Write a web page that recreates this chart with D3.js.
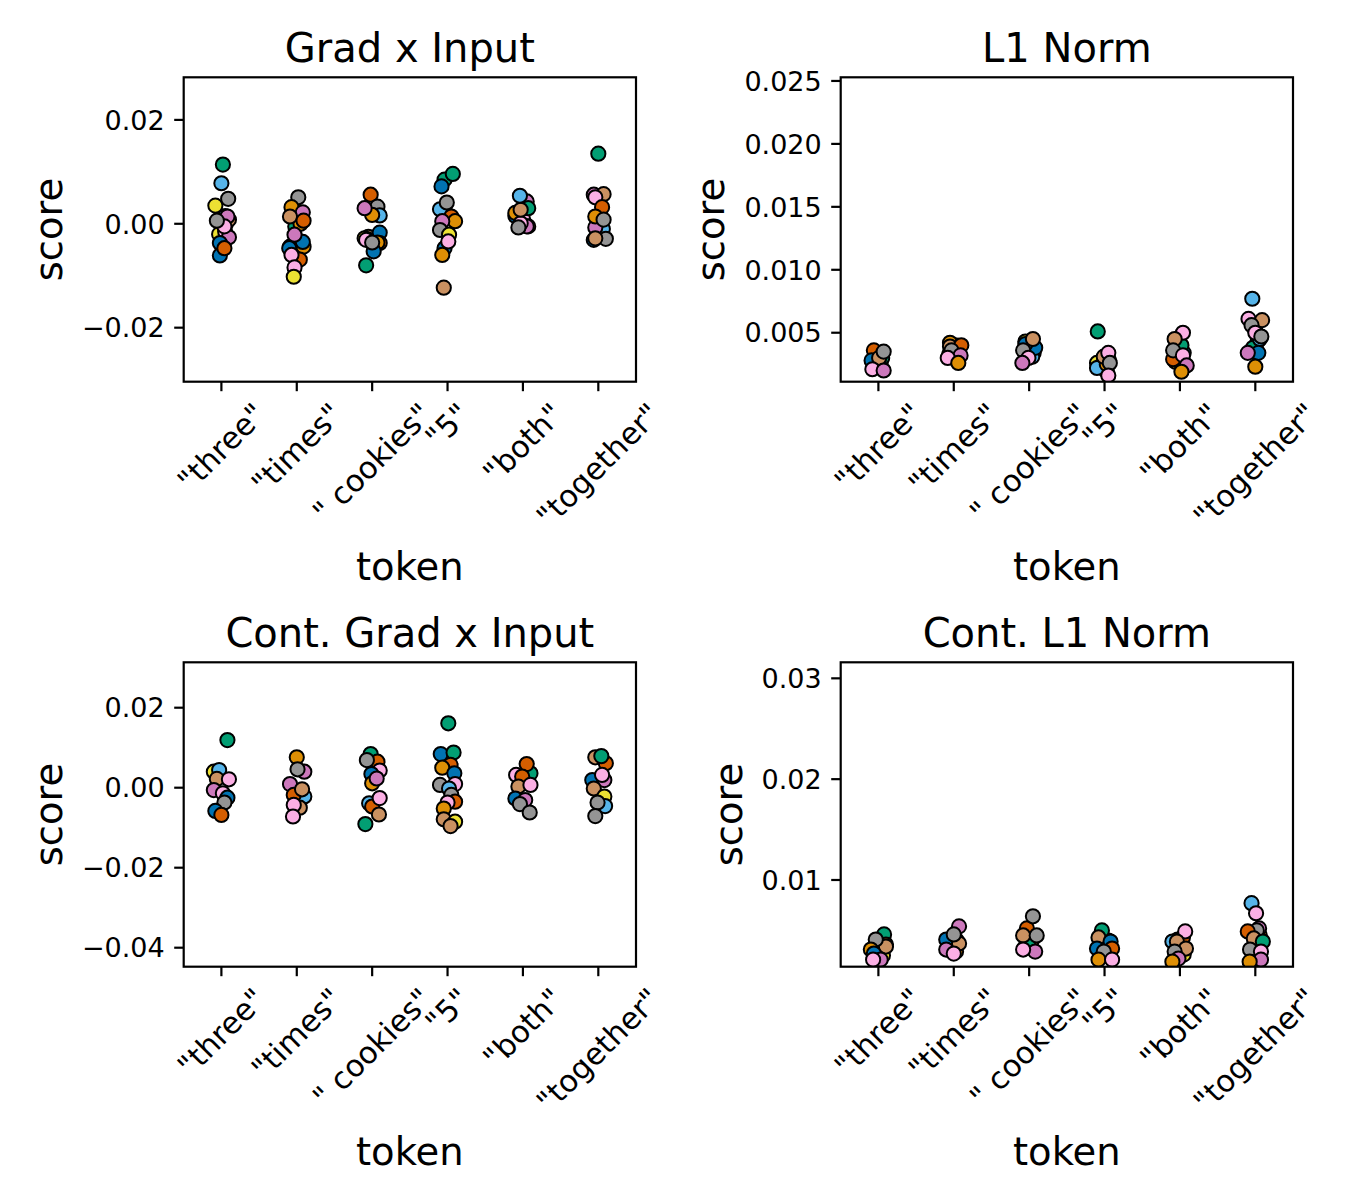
<!DOCTYPE html>
<html>
<head>
<meta charset="utf-8">
<script src="https://cdn.jsdelivr.net/npm/d3@7"></script>
<style>
  body { margin: 0; background: #fff; }
  text { font-family: "DejaVu Sans", sans-serif; fill: #000; }
</style>
</head>
<body>
<svg id="fig" width="1350" height="1200"></svg>
<script>
// categories on the x axis
var tokens = ['"three"', '"times"', '" cookies"', '"5"', '"both"', '"together"'];

// seaborn "colorblind" palette, indexed by hue level
var palette = ['#0173b2', '#de8f05', '#029e73', '#d55e00', '#cc78bc',
               '#ca9161', '#fbafe4', '#949494', '#ece133', '#56b4e9'];

// each point: [score, hue index, jitter in category units]
var gradInputPts = [
  [[0.0015,1,0.05],[-0.0010,2,0.03],[0.0000,3,0.06],[-0.0020,8,-0.03],[0.0011,9,0.02],[-0.0015,6,0.05],
   [0.0008,5,0.10],[-0.0026,4,0.10],[0.0014,4,0.08],[-0.0005,6,0.04],[0.0006,7,-0.06],[0.0035,8,-0.08],
   [0.0048,7,0.09],[0.0078,9,0.00],[0.0114,2,0.02],[-0.0037,0,-0.02],[-0.0061,0,-0.02],[-0.0047,3,0.04]],
  [[-0.0005,2,-0.02],[0.0000,1,0.05],[-0.0030,5,0.00],[0.0051,7,0.02],[0.0032,1,-0.07],[0.0022,4,0.08],
   [0.0014,5,-0.09],[0.0006,3,0.09],[-0.0044,9,-0.09],[-0.0047,0,-0.10],[-0.0044,1,0.09],[-0.0035,0,0.08],
   [-0.0021,4,-0.03],[-0.0069,3,0.04],[-0.0060,6,-0.07],[-0.0084,6,-0.03],[-0.0102,8,-0.04]],
  [[-0.0030,2,0.05],[-0.0025,5,-0.05],[-0.0030,4,-0.06],[-0.0028,8,-0.10],[0.0056,3,-0.02],[0.0033,7,0.07],
   [0.0016,9,0.10],[0.0017,1,0.00],[0.0030,4,-0.10],[-0.0017,0,0.10],[-0.0037,3,0.10],[-0.0036,1,0.07],
   [-0.0031,6,-0.08],[-0.0053,0,0.02],[-0.0036,7,0.00],[-0.0080,2,-0.08]],
  [[0.0010,6,0.06],[-0.0047,0,-0.04],[0.0030,5,-0.04],[0.0028,9,-0.10],[0.0085,2,-0.04],[0.0096,2,0.07],
   [0.0072,0,-0.08],[0.0041,7,-0.01],[0.0014,3,0.05],[0.0005,1,0.10],[0.0005,4,-0.07],[-0.0012,7,-0.10],
   [-0.0021,8,0.02],[-0.0034,6,0.01],[-0.0060,1,-0.07],[-0.0123,5,-0.05]],
  [[0.0015,0,-0.10],[0.0021,3,-0.08],[0.0035,1,0.03],[0.0010,6,0.00],[0.0043,4,0.05],[0.0030,2,0.07],
   [0.0021,1,-0.10],[-0.0005,8,0.07],[-0.0005,4,0.05],[0.0001,6,-0.03],[0.0027,5,-0.03],[0.0054,9,-0.04],
   [-0.0007,7,-0.06]],
  [[0.0000,0,0.03],[-0.0010,9,0.06],[-0.0031,0,-0.06],[-0.0007,4,-0.04],[0.0056,4,-0.06],[0.0057,5,0.07],
   [0.0051,6,-0.04],[0.0032,3,0.05],[0.0014,1,-0.04],[0.0008,7,0.07],[-0.0029,7,0.10],[-0.0028,5,-0.04],
   [0.0135,2,0.00]]
];

var l1NormPts = [
  [[0.0031,3,0.00],[0.0026,9,0.03],[0.0033,5,-0.04],[0.0024,0,0.02],
   [0.0030,2,0.05],[0.0032,1,0.02],[0.0028,9,-0.02],[0.0027,8,0.00],[0.0036,3,-0.06],[0.0028,0,-0.09],
   [0.0030,5,0.01],[0.0035,7,0.07],[0.0021,6,-0.08],[0.0020,4,0.07]],
  [[0.0034,2,0.00],[0.0038,0,0.04],[0.0033,9,-0.06],[0.0040,8,0.02],
   [0.0036,2,0.03],[0.0042,1,-0.05],[0.0039,5,-0.05],[0.0040,3,0.10],[0.0036,7,-0.03],[0.0032,4,0.09],
   [0.0030,6,-0.08],[0.0026,1,0.06]],
  [[0.0040,2,0.03],[0.0034,3,0.06],[0.0043,8,-0.05],[0.0031,9,0.04],[0.0038,1,0.00],
   [0.0038,0,0.08],[0.0041,0,-0.05],[0.0045,5,0.05],[0.0036,7,-0.08],[0.0030,6,-0.01],[0.0026,4,-0.09]],
  [[0.0028,3,0.06],[0.0022,5,-0.02],[0.0019,0,0.03],[0.0030,9,0.04],
   [0.0025,4,0.03],[0.0026,8,-0.10],[0.0023,0,-0.06],[0.0022,9,-0.10],[0.0025,1,0.03],[0.0031,5,-0.01],
   [0.0034,6,0.05],[0.0026,7,0.07],[0.0016,6,0.05],[0.0051,2,-0.09]],
  [[0.0034,0,0.05],[0.0027,8,-0.06],[0.0039,9,0.00],[0.0022,5,0.03],
   [0.0040,2,0.02],[0.0050,6,0.04],[0.0045,5,-0.07],[0.0029,3,-0.09],[0.0036,7,-0.09],[0.0032,6,0.04],
   [0.0024,4,0.09],[0.0019,1,0.02]],
  [[0.0043,3,0.03],[0.0038,2,-0.03],[0.0045,9,0.06],[0.0052,8,0.00],
   [0.0077,9,-0.04],[0.0061,6,-0.09],[0.0060,5,0.09],[0.0056,7,-0.05],[0.0050,6,0.00],[0.0047,7,0.08],
   [0.0034,0,0.04],[0.0034,4,-0.10],[0.0023,1,0.00]]
];

var contGradInputPts = [
  [[0.0040,8,-0.10],[0.0044,9,-0.03],[0.0022,5,-0.06],[0.0021,6,0.10],[-0.0006,4,-0.10],[-0.0014,6,0.02],
   [-0.0025,0,0.08],[-0.0037,7,0.04],[-0.0058,0,-0.08],[-0.0068,3,0.00],[0.0119,2,0.08]],
  [[0.0076,1,0.00],[0.0040,4,0.10],[0.0046,7,0.01],[0.0009,4,-0.09],[-0.0022,9,0.10],[-0.0018,3,-0.04],
   [-0.0004,5,0.07],[-0.0050,5,0.04],[-0.0043,6,-0.04],[-0.0072,6,-0.05]],
  [[0.0084,2,-0.02],[0.0065,3,0.07],[0.0069,7,-0.07],[0.0043,6,0.10],[0.0034,0,-0.01],[0.0011,1,0.00],
   [0.0023,4,0.06],[-0.0039,9,-0.04],[-0.0047,3,0.00],[-0.0026,6,0.10],[-0.0067,5,0.09],[-0.0091,2,-0.09]],
  [[0.0161,2,0.01],[0.0084,0,-0.09],[0.0088,2,0.08],[0.0057,3,0.04],[0.0050,1,-0.07],[0.0036,0,0.09],
   [0.0007,7,-0.10],[0.0009,6,0.10],[-0.0002,9,0.02],[-0.0018,7,0.05],[-0.0035,3,0.10],[-0.0037,6,0.00],
   [-0.0052,1,-0.05],[-0.0079,5,-0.05],[-0.0085,8,0.10],[-0.0096,5,0.04]],
  [[0.0036,2,0.10],[0.0059,3,0.05],[0.0032,6,-0.09],[0.0028,3,-0.01],[0.0003,5,-0.06],[0.0007,6,0.10],
   [-0.0027,0,-0.10],[-0.0031,4,0.03],[-0.0041,7,-0.04],[-0.0062,7,0.09]],
  [[0.0076,5,-0.04],[0.0061,3,0.10],[0.0079,2,0.04],[0.0019,0,-0.08],[0.0019,4,0.08],[0.0032,6,0.05],
   [-0.0002,5,-0.06],[-0.0022,8,0.08],[-0.0046,9,0.09],[-0.0037,7,-0.01],[-0.0071,7,-0.04]]
];

var contL1NormPts = [
  [[0.0030,9,0.02],[0.0025,8,0.06],[0.0033,2,0.00],[0.0028,5,-0.03],
   [0.0046,2,0.075],[0.0036,3,0.10],[0.0034,5,0.10],[0.0041,7,-0.035],[0.0031,1,-0.10],[0.0027,0,-0.06],
   [0.0021,4,0.03],[0.0021,6,-0.07]],
  [[0.0035,2,0.03],[0.0033,3,-0.05],[0.0040,9,0.04],[0.0029,1,0.03],
   [0.0041,0,-0.10],[0.0054,4,0.07],[0.0037,5,0.07],[0.0046,7,0.00],[0.0031,4,-0.10],[0.0027,6,0.00]],
  [[0.0036,0,0.02],[0.0041,1,0.04],[0.0034,9,-0.05],
   [0.0039,2,-0.01],[0.0052,3,-0.03],[0.0045,5,-0.08],[0.0045,7,0.10],[0.0064,7,0.05],[0.0029,4,0.08],
   [0.0031,6,-0.08]],
  [[0.0027,4,0.05],[0.0036,9,0.02],[0.0025,8,-0.05],[0.0040,6,0.05],
   [0.0050,2,-0.035],[0.0043,5,-0.08],[0.0039,0,0.08],[0.0032,0,-0.10],[0.0032,3,0.10],[0.0029,7,-0.01],
   [0.0021,1,-0.08],[0.0021,6,0.10]],
  [[0.0030,0,0.03],[0.0035,2,0.00],[0.0026,8,0.05],[0.0041,1,-0.03],
   [0.0039,9,-0.10],[0.0043,3,0.04],[0.0049,6,0.07],[0.0039,5,-0.04],[0.0032,5,0.08],[0.0029,7,-0.07],
   [0.0022,4,-0.02],[0.0019,1,-0.10]],
  [[0.0035,0,0.02],[0.0045,1,0.06],[0.0026,8,-0.02],[0.0052,4,0.05],
   [0.0077,9,-0.05],[0.0067,6,0.01],[0.0050,7,0.02],[0.0049,3,-0.10],[0.0042,5,-0.02],[0.0039,2,0.10],
   [0.0031,7,-0.07],[0.0029,6,0.075],[0.0021,4,0.075],[0.0019,1,-0.075]]
];

// y ticks and limits
var gradInputTicks = [-0.02, 0, 0.02];
var l1NormTicks = [0.005, 0.010, 0.015, 0.020, 0.025];
var contGradInputTicks = [-0.04, -0.02, 0, 0.02];
var contL1NormTicks = [0.01, 0.02, 0.03];
var gradInputLim = [-0.0304, 0.0282];
var l1NormLim = [0.00111, 0.02529];
var contGradInputLim = [-0.04475, 0.03135];
var contL1NormLim = [0.0014, 0.03159];

var panels = [
  {title: 'Grad x Input', pts: gradInputPts, ticks: gradInputTicks, lim: gradInputLim, fmt: '.2f', col: 0, row: 0},
  {title: 'L1 Norm', pts: l1NormPts, ticks: l1NormTicks, lim: l1NormLim, fmt: '.3f', col: 1, row: 0},
  {title: 'Cont. Grad x Input', pts: contGradInputPts, ticks: contGradInputTicks, lim: contGradInputLim, fmt: '.2f', col: 0, row: 1},
  {title: 'Cont. L1 Norm', pts: contL1NormPts, ticks: contL1NormTicks, lim: contL1NormLim, fmt: '.2f', col: 1, row: 1}
];

var colX = [[183.7, 636], [840.7, 1293]];
var rowY = [[77.3, 381.7], [662.3, 966.7]];
var tickFs = 27, xTickFs = 30.5, labelFs = 38.5, titleFs = 40;
var tickLen = 9.5, tickPad = 9.5, lw = 2.2;

var svg = d3.select('#fig');

panels.forEach(function(p) {
  var x0 = colX[p.col][0], x1 = colX[p.col][1];
  var y0 = rowY[p.row][0], y1 = rowY[p.row][1];
  var xs = d3.scaleLinear().domain([-0.5, tokens.length - 0.5]).range([x0, x1]);
  var ys = d3.scaleLinear().domain(p.lim).range([y1, y0]);
  var g = svg.append('g');

  // points
  g.append('defs').append('clipPath').attr('id', 'clip' + p.col + p.row)
    .append('rect').attr('x', x0).attr('y', y0).attr('width', x1 - x0).attr('height', y1 - y0);
  var pg = g.append('g').attr('clip-path', 'url(#clip' + p.col + p.row + ')');
  p.pts.forEach(function(arr, i) {
    pg.selectAll(null).data(arr).enter().append('circle')
      .attr('cx', function(d) { return xs(i + d[2]); })
      .attr('cy', function(d) { return ys(d[0]); })
      .attr('r', 7.1)
      .attr('fill', function(d) { return palette[d[1]]; })
      .attr('stroke', '#000')
      .attr('stroke-width', 2);
  });

  // spines
  g.append('rect').attr('x', x0).attr('y', y0).attr('width', x1 - x0).attr('height', y1 - y0)
    .attr('fill', 'none').attr('stroke', '#000').attr('stroke-width', lw);

  // y ticks
  var fmt = d3.format(p.fmt);
  var minLeft = Infinity;
  p.ticks.forEach(function(t) {
    var yy = ys(t);
    g.append('line').attr('x1', x0 - tickLen).attr('x2', x0).attr('y1', yy).attr('y2', yy)
      .attr('stroke', '#000').attr('stroke-width', lw);
    var tx = g.append('text').attr('x', x0 - tickLen - tickPad).attr('y', yy).attr('dy', '0.36em')
      .attr('text-anchor', 'end').style('font-size', tickFs + 'px').text(fmt(t));
    minLeft = Math.min(minLeft, tx.node().getBBox().x);
  });

  // x ticks with 45 degree labels
  tokens.forEach(function(tok, i) {
    var xx = xs(i);
    g.append('line').attr('x1', xx).attr('x2', xx).attr('y1', y1).attr('y2', y1 + tickLen)
      .attr('stroke', '#000').attr('stroke-width', lw);
    var t = g.append('text').attr('text-anchor', 'middle').attr('dy', '0.35em')
      .attr('xml:space', 'preserve').style('white-space', 'pre')
      .style('font-size', xTickFs + 'px').text(tok);
    var L = t.node().getComputedTextLength();
    var side = (L + xTickFs * 1.164) / Math.SQRT2;
    t.attr('transform', 'translate(' + xx + ',' + (y1 + tickLen + 5 + side / 2) + ') rotate(-45)');
  });

  // labels and title
  g.append('text').attr('transform', 'translate(' + (minLeft - 20) + ',' + ((y0 + y1) / 2) + ') rotate(-90)')
    .attr('text-anchor', 'middle').style('font-size', labelFs + 'px').text('score');
  g.append('text').attr('x', (x0 + x1) / 2).attr('y', y1 + 198)
    .attr('text-anchor', 'middle').style('font-size', labelFs + 'px').text('token');
  g.append('text').attr('x', (x0 + x1) / 2).attr('y', y0 - 15.6)
    .attr('text-anchor', 'middle').style('font-size', titleFs + 'px').text(p.title);
});
</script>
</body>
</html>
